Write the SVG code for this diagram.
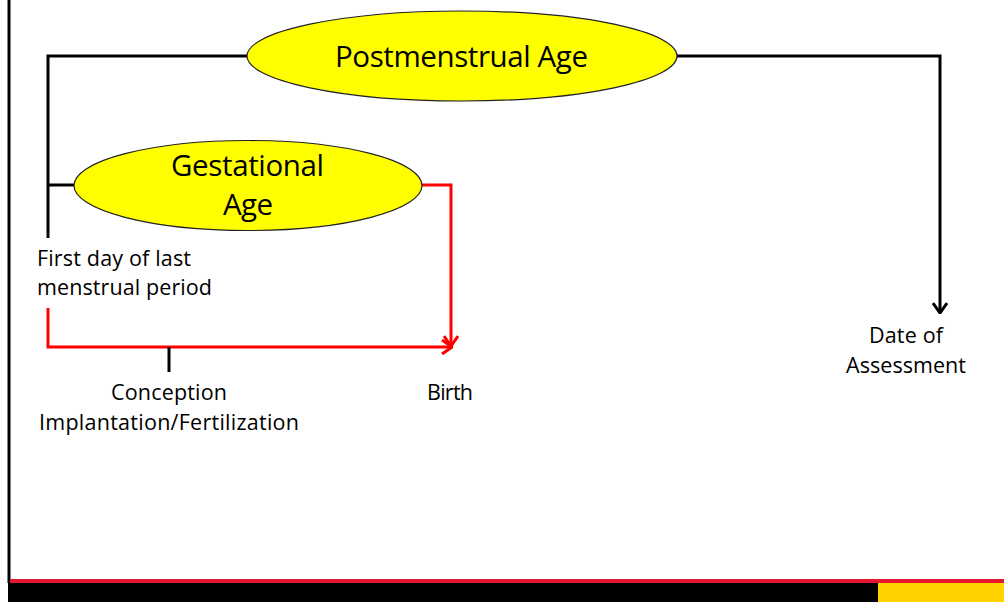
<svg xmlns="http://www.w3.org/2000/svg" width="1004" height="602" viewBox="0 0 1004 602">
<style>
  .node ellipse { fill: #FFFF00; stroke: #222; stroke-width: 1.2; }
  .title { font-family: "Open Sans", "Liberation Sans", Arial, sans-serif; font-size: 29.5px; fill: #000; text-anchor: middle; }
  .label { font-family: "Open Sans", "Liberation Sans", Arial, sans-serif; font-size: 21.5px; fill: #000; }
  .blk { fill: none; stroke: #000; stroke-width: 3; }
  .red { fill: none; stroke: #FF0000; stroke-width: 3; }
</style>
<defs>
  <marker id="arrBlk" viewBox="0 0 12 16" refX="11" refY="8" markerWidth="12" markerHeight="16" markerUnits="userSpaceOnUse" orient="auto">
    <path d="M1,1 L11,8 L1,15" fill="none" stroke="#000" stroke-width="3"/>
  </marker>
  <marker id="arrRed" viewBox="0 0 12 16" refX="11" refY="8" markerWidth="12" markerHeight="16" markerUnits="userSpaceOnUse" orient="auto">
    <path d="M1,1 L11,8 L1,15" fill="none" stroke="#FF0000" stroke-width="3"/>
  </marker>
</defs>
<rect x="0" y="0" width="1004" height="602" fill="#FFFFFF"/>
<g id="frame">
  <line x1="9" y1="0" x2="9" y2="583" stroke="#000" stroke-width="3"/>
  <rect x="10" y="579" width="994" height="4.5" fill="#E21833"/>
  <rect x="8" y="583" width="870" height="19" fill="#000"/>
  <rect x="878" y="583" width="126" height="19" fill="#FFD200"/>
</g>
<g id="connectors">
  <polyline class="blk" points="247,56 48,56 48,238"/>
  <line class="blk" x1="48" y1="185" x2="74" y2="185"/>
  <polyline class="blk" points="677,56 940,56 940,313" marker-end="url(#arrBlk)"/>
  <polyline class="red" points="422,185 451,185 451,346" marker-end="url(#arrRed)"/>
  <polyline class="red" points="48,308 48,347 452,347" marker-end="url(#arrRed)"/>
  <line class="blk" x1="169" y1="347" x2="169" y2="372"/>
</g>
<g id="postmenstrual" class="node">
  <ellipse cx="462" cy="56" rx="215" ry="45"/>
  <text class="title" x="461.5" y="67" textLength="253">Postmenstrual Age</text>
</g>
<g id="gestational" class="node">
  <ellipse cx="248" cy="185.5" rx="174" ry="45"/>
  <text class="title" x="247.5" y="176" textLength="153">Gestational</text>
  <text class="title" x="248" y="215" textLength="50">Age</text>
</g>
<g id="lmp">
  <text class="label" x="37" y="266" textLength="154">First day of last</text>
  <text class="label" x="37" y="295" textLength="175">menstrual period</text>
</g>
<g id="conception">
  <text class="label" x="169" y="400" text-anchor="middle" textLength="116">Conception</text>
  <text class="label" x="169" y="430" text-anchor="middle" textLength="260">Implantation/Fertilization</text>
</g>
<g id="birth">
  <text class="label" x="450" y="400" text-anchor="middle" textLength="46">Birth</text>
</g>
<g id="assessment">
  <text class="label" x="906" y="343" text-anchor="middle" textLength="74">Date of</text>
  <text class="label" x="906" y="373" text-anchor="middle" textLength="120">Assessment</text>
</g>
</svg>
